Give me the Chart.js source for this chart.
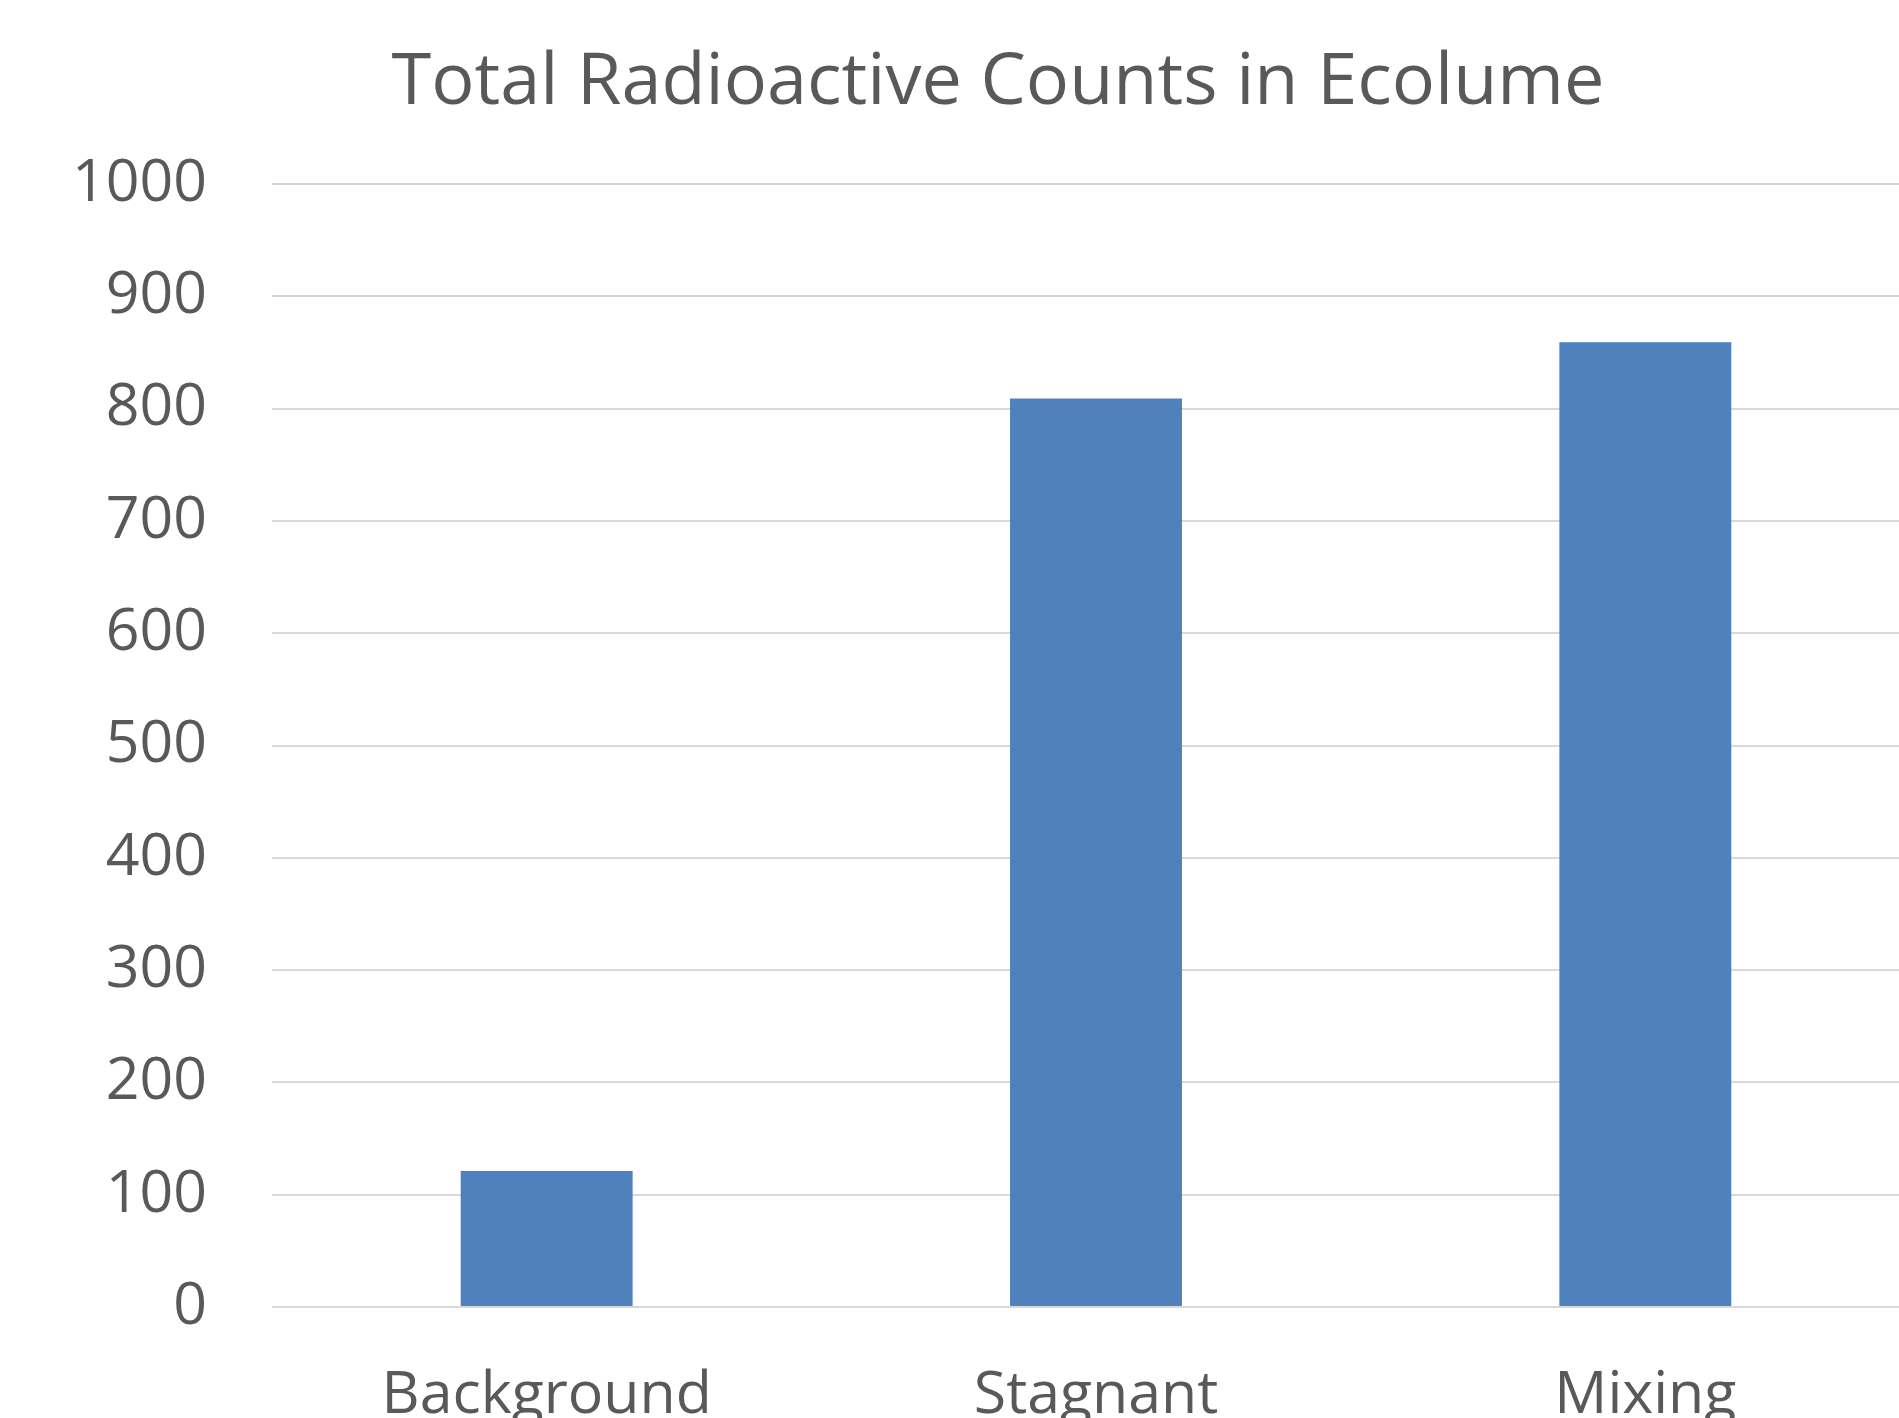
<!DOCTYPE html>
<html>
<head>
<meta charset="utf-8">
<script src="https://cdn.jsdelivr.net/npm/chart.js@4/dist/chart.umd.min.js"></script>
<style>
  html, body { margin: 0; padding: 0; overflow: hidden; background: #ffffff; }
  #wrap { width: 1996px; height: 1418px; }
</style>
</head>
<body>
<div id="wrap"><canvas id="c" width="1996" height="1418"></canvas></div>
<script>
const titleText = "Total Radioactive Counts in Ecolume";
const categories = ["Background", "Stagnant", "Mixing"];
const counts = [121, 809, 859];
const yMin = 0;
const yMax = 1000;
const yStep = 100;

const textColor = "#595959";
const fontFamily = "'Open Sans', 'DejaVu Sans', sans-serif";

new Chart(document.getElementById("c"), {
  type: "bar",
  data: {
    labels: categories,
    datasets: [{
      label: "Total counts",
      data: counts,
      backgroundColor: "#4f81bd",
      borderWidth: 0,
      categoryPercentage: 1,
      barPercentage: 0.313
    }]
  },
  options: {
    responsive: false,
    devicePixelRatio: 1,
    animation: false,
    layout: { padding: { left: 76, right: 76, top: 0, bottom: 0 } },
    plugins: {
      legend: { display: false },
      tooltip: { enabled: false },
      title: {
        display: true,
        text: titleText,
        color: textColor,
        font: { family: fontFamily, size: 72, weight: "normal", lineHeight: 1.2 },
        padding: { top: 40, bottom: 57.6 }
      }
    },
    scales: {
      x: {
        grid: { display: false, drawTicks: false },
        border: { display: false },
        ticks: {
          color: textColor,
          font: { family: fontFamily, size: 59, lineHeight: 1.2 },
          padding: 54,
          maxRotation: 0,
          autoSkip: false
        },
        afterFit: (s) => { s.height = 111; }
      },
      y: {
        min: yMin,
        max: yMax,
        grid: { color: "#d9d9d9", lineWidth: 2, drawTicks: false },
        border: { display: false },
        ticks: {
          stepSize: yStep,
          color: textColor,
          font: { family: fontFamily, size: 59, lineHeight: 1.2 },
          padding: 65,
          callback: (v) => String(v)
        },
        afterFit: (s) => { s.width = 196; }
      }
    }
  }
});
</script>
</body>
</html>
